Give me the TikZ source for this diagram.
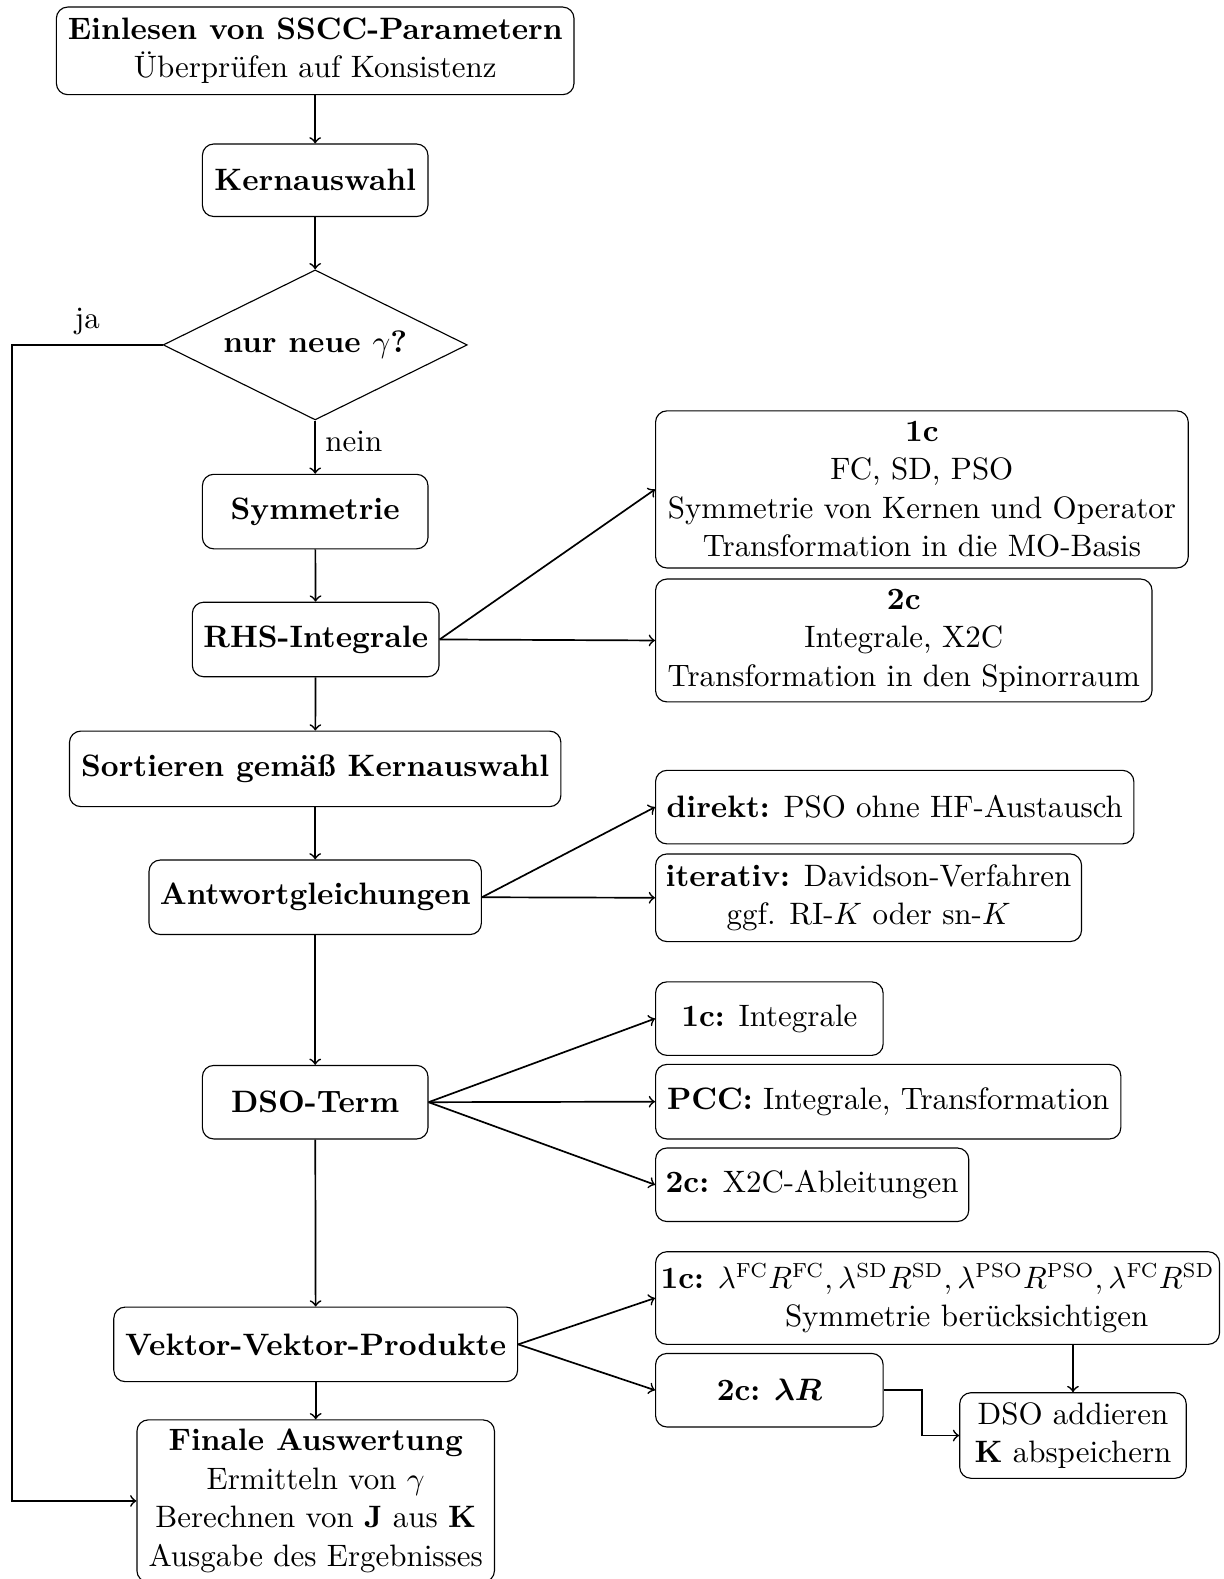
\documentclass[tikz,border=0pt]{standalone}
\usetikzlibrary{shapes.geometric,calc}
\usepackage{amsmath,bm}
\newcommand\pxu{0.356pt}
\newcommand\sps[1]{^{\text{\fontsize{7.2pt}{8pt}\selectfont #1}}}
\begin{document}
\begin{tikzpicture}[x=0.356pt,y=-0.356pt,
 every node/.style={font=\fontsize{10.95pt}{13.6pt}\selectfont},
 box/.style={draw, rounded corners=4pt, align=center, inner sep=0pt},
 arr/.style={semithick,->}]
\useasboundingbox (0,0) rectangle (1215,1568);
% main column
\node[box, minimum width=514*\pxu, minimum height=87*\pxu] (ein) at (313,50.5) {\textbf{Einlesen von SSCC-Parametern}\\Überprüfen auf Konsistenz};
\node[box, minimum width=224*\pxu, minimum height=72*\pxu] (kern) at (313,179) {\textbf{Kernauswahl}};
\node[draw, diamond, aspect=2, minimum width=302*\pxu, minimum height=149*\pxu, inner sep=0pt] (dia) at (313,342.5) {\textbf{nur neue $\gamma$?}};
\node[box, minimum width=224*\pxu, minimum height=74*\pxu] (sym) at (313,508) {\textbf{Symmetrie}};
\node[box, minimum width=245*\pxu, minimum height=74*\pxu] (rhs) at (313.5,635) {\textbf{RHS-Integrale}};
\node[box, minimum width=488*\pxu, minimum height=75*\pxu] (sort) at (313,763.5) {\textbf{Sortieren gemäß Kernauswahl}};
\node[box, minimum width=330*\pxu, minimum height=74*\pxu] (ant) at (313,891) {\textbf{Antwortgleichungen}};
\node[box, minimum width=224*\pxu, minimum height=73*\pxu] (dso) at (313,1094.5) {\textbf{DSO-Term}};
\node[box, minimum width=401*\pxu, minimum height=74*\pxu] (vek) at (313.5,1335) {\textbf{Vektor-Vektor-Produkte}};
\node[box, minimum width=355*\pxu, minimum height=161*\pxu] (fin) at (313.5,1490.5) {\textbf{Finale Auswertung}\\Ermitteln von $\gamma$\\Berechnen von $\mathbf{J}$ aus $\mathbf{K}$\\Ausgabe des Ergebnisses};
% right column
\node[box, minimum width=529*\pxu, minimum height=156*\pxu] (r1c) at (915.5,486) {\textbf{1c}\\FC, SD, PSO\\Symmetrie von Kernen und Operator\\Transformation in die MO-Basis};
\node[box, minimum width=493*\pxu, minimum height=122*\pxu] (r2c) at (897.5,636) {\textbf{2c}\\Integrale, X2C\\Transformation in den Spinorraum};
\node[box, minimum width=475*\pxu, minimum height=73*\pxu] (dir) at (888.5,801.5) {\textbf{direkt:} PSO ohne HF-Austausch};
\node[box, minimum width=423*\pxu, minimum height=87*\pxu] (ite) at (862.5,891.5) {\textbf{iterativ:} Davidson-Verfahren\\ggf. RI-$K$ oder sn-$K$};
\node[box, minimum width=226*\pxu, minimum height=73*\pxu] (d1c) at (764,1011.5) {\textbf{1c:} Integrale};
\node[box, minimum width=462*\pxu, minimum height=74*\pxu] (pcc) at (882,1094) {\textbf{PCC:} Integrale, Transformation};
\node[box, minimum width=311*\pxu, minimum height=73*\pxu] (d2c) at (806.5,1176.5) {\textbf{2c:} X2C-Ableitungen};
\node[box, align=left, minimum width=560*\pxu, minimum height=92*\pxu] (lam1) at (931,1289) {\textbf{1c:} $\lambda\sps{FC}R\sps{FC},\lambda\sps{SD}R\sps{SD},\lambda\sps{PSO}R\sps{PSO},\lambda\sps{FC}R\sps{SD}$\\\hspace*{44pt}Symmetrie berücksichtigen};
\node[box, minimum width=226*\pxu, minimum height=73*\pxu] (lam2) at (764,1380.5) {\textbf{2c:} $\bm{\lambda R}$};
\node[box, minimum width=225*\pxu, minimum height=85*\pxu] (add) at (1065.5,1425.5) {DSO addieren\\$\mathbf{K}$ abspeichern};
% connectors
\coordinate (lft) at (12,342.5);
\draw[arr] (ein) -- (kern);
\draw[arr] (kern) -- (dia);
\draw[arr] (dia) -- node[right, pos=0.4] (nein) {nein} (sym);
\draw[arr] (dia.west) -- node[above, pos=0.5] (ja) {ja} (lft) |- (fin.west);
\draw[arr] (sym) -- (rhs);
\draw[arr] (rhs) -- (sort);
\draw[arr] (sort) -- (ant);
\draw[arr] (ant) -- (dso);
\draw[arr] (dso) -- (vek);
\draw[arr] (vek) -- (fin);
\draw[arr] (rhs.east) -- (r1c.west);
\draw[arr] (rhs.east) -- (r2c.west);
\draw[arr] (ant.east) -- (dir.west);
\draw[arr] (ant.east) -- (ite.west);
\draw[arr] (dso.east) -- (d1c.west);
\draw[arr] (dso.east) -- (pcc.west);
\draw[arr] (dso.east) -- (d2c.west);
\draw[arr] (vek.east) -- (lam1.west);
\draw[arr] (vek.east) -- (lam2.west);
\draw[arr] (lam1.south -| add.north) -- (add.north);
\draw[arr] (lam2.east) -- ++(38,0) |- (add.west);
\end{tikzpicture}
\end{document}
